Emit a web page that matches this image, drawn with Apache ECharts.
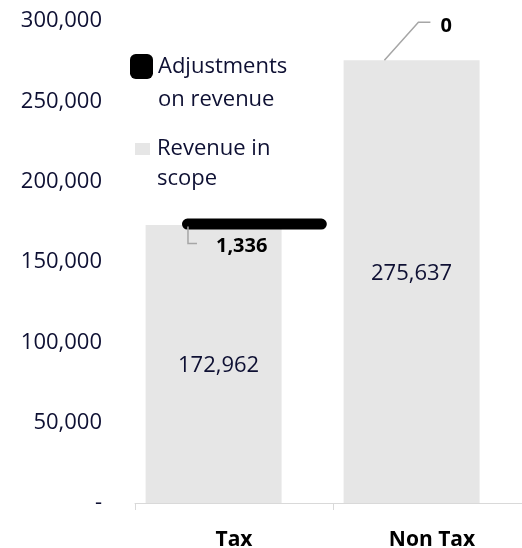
<!DOCTYPE html>
<html>
<head>
<meta charset="utf-8">
<script src="https://cdn.jsdelivr.net/npm/echarts@6/dist/echarts.min.js"></script>
<style>
  html, body { margin: 0; padding: 0; background: #ffffff; }
  #chart { width: 522px; height: 548px; }
</style>
</head>
<body>
<div id="chart"></div>
<script>
// Chart data
const categories = ['Tax', 'Non Tax'];
const revenueInScope = [172962, 275637];
const adjustments = [1336, 0];
const yMin = 0;
const yMax = 300000;
const yStep = 50000;

const navy = '#0e1033';
const fontFamily = '"Open Sans", "Noto Sans", sans-serif';
const fmt = v => (v === 0 ? '-' : v.toLocaleString('en-US'));

const chart = echarts.init(document.getElementById('chart'), null, { renderer: 'canvas' });

// bar rects of the adjustment series, filled in by the label layout callback
// (the rect handed over includes the bar's border, if it has one)
const adjRects = [];

function adjLabelLayout(params) {
    const r = params.rect;
    adjRects[params.dataIndex] = { x: r.x, y: r.y, height: r.height };
    if (params.dataIndex === 0) {
        return { x: r.x + 34, y: r.y + 28 };
    }
    return { x: r.x + 56, y: r.y - 34 };
}

const option = {
    animation: false,
    textStyle: { fontFamily: fontFamily },
    grid: { left: 135, width: 396, top: 21, bottom: 45, containLabel: false, outerBoundsMode: 'none' },
    legend: [
        {
            data: ['Adjustments on revenue'],
            orient: 'vertical',
            left: 130,
            top: 17,
            padding: 0,
            icon: 'roundRect',
            itemWidth: 23,
            itemHeight: 25,
            itemGap: 0,
            itemStyle: { borderWidth: 0, color: '#000000' },
            formatter: () => '\nAdjustments\non revenue',
            textStyle: { fontSize: 22, color: navy, lineHeight: 33, fontFamily: fontFamily }
        },
        {
            data: ['Revenue in scope'],
            orient: 'vertical',
            left: 135,
            top: 104,
            padding: 0,
            icon: 'rect',
            itemWidth: 15,
            itemHeight: 12,
            itemGap: 0,
            formatter: () => '\nRevenue in\nscope',
            textStyle: { fontSize: 22, color: navy, lineHeight: 30, padding: [0, 0, 0, 2], fontFamily: fontFamily }
        }
    ],
    xAxis: {
        type: 'category',
        data: categories,
        axisLine: { lineStyle: { color: '#d9d9d9', width: 1 } },
        axisTick: { show: true, length: 7, lineStyle: { color: '#d9d9d9' } },
        axisLabel: { fontSize: 21, fontWeight: 'bold', color: '#000000', margin: 27, fontFamily: fontFamily }
    },
    yAxis: {
        type: 'value',
        min: yMin,
        max: yMax,
        interval: yStep,
        axisLine: { show: false },
        axisTick: { show: false },
        splitLine: { show: false },
        axisLabel: { fontSize: 22, color: navy, margin: 33, formatter: fmt, fontFamily: fontFamily }
    },
    series: [
        {
            name: 'Revenue in scope',
            type: 'bar',
            stack: 'rev',
            barWidth: 136,
            barGap: '-70%',
            data: revenueInScope.map((v, i) => ({
                value: v,
                label: { offset: i === 0 ? [5, 2] : [0, -8] }
            })),
            itemStyle: { color: '#e6e6e6' },
            label: {
                show: true,
                position: 'inside',
                fontSize: 22,
                color: navy,
                fontFamily: fontFamily,
                formatter: p => p.value.toLocaleString('en-US')
            }
        },
        {
            name: 'base',
            type: 'bar',
            stack: 'adj',
            barWidth: 136,
            barGap: '-70%',
            data: revenueInScope,
            silent: true,
            itemStyle: { color: 'rgba(0,0,0,0)' },
            label: { show: false }
        },
        {
            name: 'Adjustments on revenue',
            type: 'bar',
            stack: 'adj',
            barWidth: 136,
            barGap: '-70%',
            data: adjustments.map(v => (v === 0
                ? { value: v, itemStyle: { borderWidth: 0, color: 'rgba(0,0,0,0)' } }
                : v)),
            itemStyle: { color: '#000000', borderColor: '#000000', borderWidth: 11, borderJoin: 'round' },
            label: {
                show: true,
                position: 'top',
                align: 'left',
                verticalAlign: 'middle',
                fontSize: 20,
                fontWeight: 'bold',
                color: '#000000',
                fontFamily: fontFamily,
                formatter: p => p.value.toLocaleString('en-US')
            },
            labelLayout: adjLabelLayout
        }
    ]
};

chart.setOption(option);

// leader lines from each adjustment bar to its value label
function leaderLines() {
    const lines = [];
    const r0 = adjRects[0];
    const r1 = adjRects[1];
    if (r0) {
        lines.push([[r0.x + 6, r0.y + r0.height - 3], [r0.x + 6, r0.y + 25], [r0.x + 15, r0.y + 25]]);
    }
    if (r1) {
        lines.push([[r1.x, r1.y], [r1.x + 34, r1.y - 38], [r1.x + 46, r1.y - 38]]);
    }
    return lines.map(pts => ({
        type: 'polyline',
        z: 100,
        silent: true,
        shape: { points: pts },
        style: { stroke: '#a6a6a6', lineWidth: 1.5, fill: null }
    }));
}

chart.setOption({ graphic: leaderLines() });

window.addEventListener('resize', () => {
    chart.resize();
});
</script>
</body>
</html>
